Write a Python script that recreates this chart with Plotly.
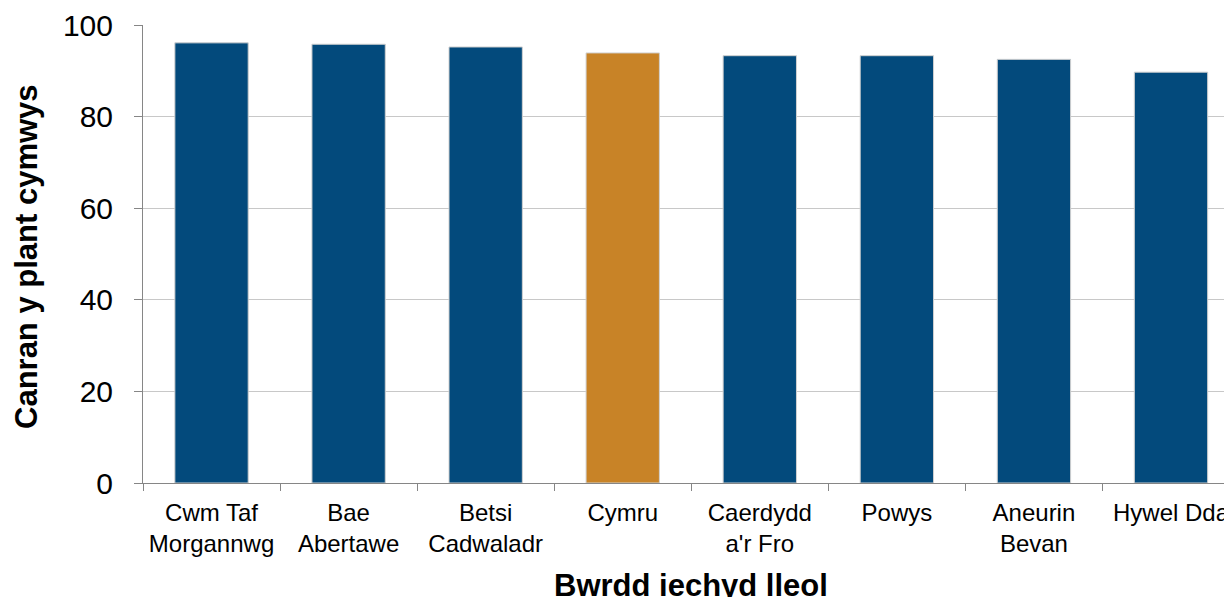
import plotly.graph_objects as go

categories = ["Cwm Taf<br>Morgannwg", "Bae<br>Abertawe", "Betsi<br>Cadwaladr", "Cymru",
              "Caerdydd<br>a'r Fro", "Powys", "Aneurin<br>Bevan", "Hywel Dda"]
values = [96.1, 95.8, 95.2, 93.9, 93.3, 93.3, 92.5, 89.7]
highlight = "Cymru"
y_ticks = [0, 20, 40, 60, 80, 100]

BLUE = "#034A7C"
ORANGE = "#C88327"
colors = [ORANGE if c == highlight else BLUE for c in categories]

FONT = "Liberation Sans, Arial, sans-serif"

# page has an 8px body margin; figure sized so plot area lands where reference has it
W, H = 1224, 589
ML, MT, MB = 135, 17, 114
plot_h = H - MT - MB
plot_w = W - ML

fig = go.Figure(go.Bar(
    x=categories, y=values,
    marker=dict(color=colors, line=dict(color="#D0D0D0", width=1)),
))

fig.update_layout(
    width=W, height=H,
    margin=dict(l=ML, r=0, t=MT, b=MB, pad=0),
    paper_bgcolor="white", plot_bgcolor="white",
    bargap=0.465,
    showlegend=False,
    font=dict(family=FONT, color="#000000"),
    xaxis=dict(
        range=[-0.5, 7.445],
        showline=True, linecolor="#868686", linewidth=1,
        ticks="outside", tickson="boundaries", ticklen=7, tickcolor="#868686",
        tickfont=dict(size=24, family=FONT, color="#000000"),
        showgrid=False,
        ticklabelstandoff=8,
    ),
    yaxis=dict(
        range=[0, 100],
        tickvals=y_ticks,
        showline=True, linecolor="#868686", linewidth=1,
        ticks="outside", ticklen=8, tickcolor="#868686",
        tickfont=dict(size=30, family=FONT, color="#000000"),
        showgrid=True, gridcolor="#C8C8C8", gridwidth=1,
        zeroline=False,
        ticklabelstandoff=15,
    ),
    annotations=[
        dict(text="<b>Bwrdd iechyd lleol</b>", x=3.5, xref="x",
             y=(475 - 577) / plot_h, yref="paper",
             showarrow=False, font=dict(size=31, family=FONT, color="#000000"),
             xanchor="center", yanchor="middle"),
        dict(text="<b>Canran y plant cymwys</b>",
             x=(18 - ML) / plot_w, xref="paper",
             y=(475 - 249) / plot_h, yref="paper",
             showarrow=False, textangle=-90,
             font=dict(size=31, family=FONT, color="#000000"),
             xanchor="center", yanchor="middle"),
    ],
)

fig.write_html("out.html")
